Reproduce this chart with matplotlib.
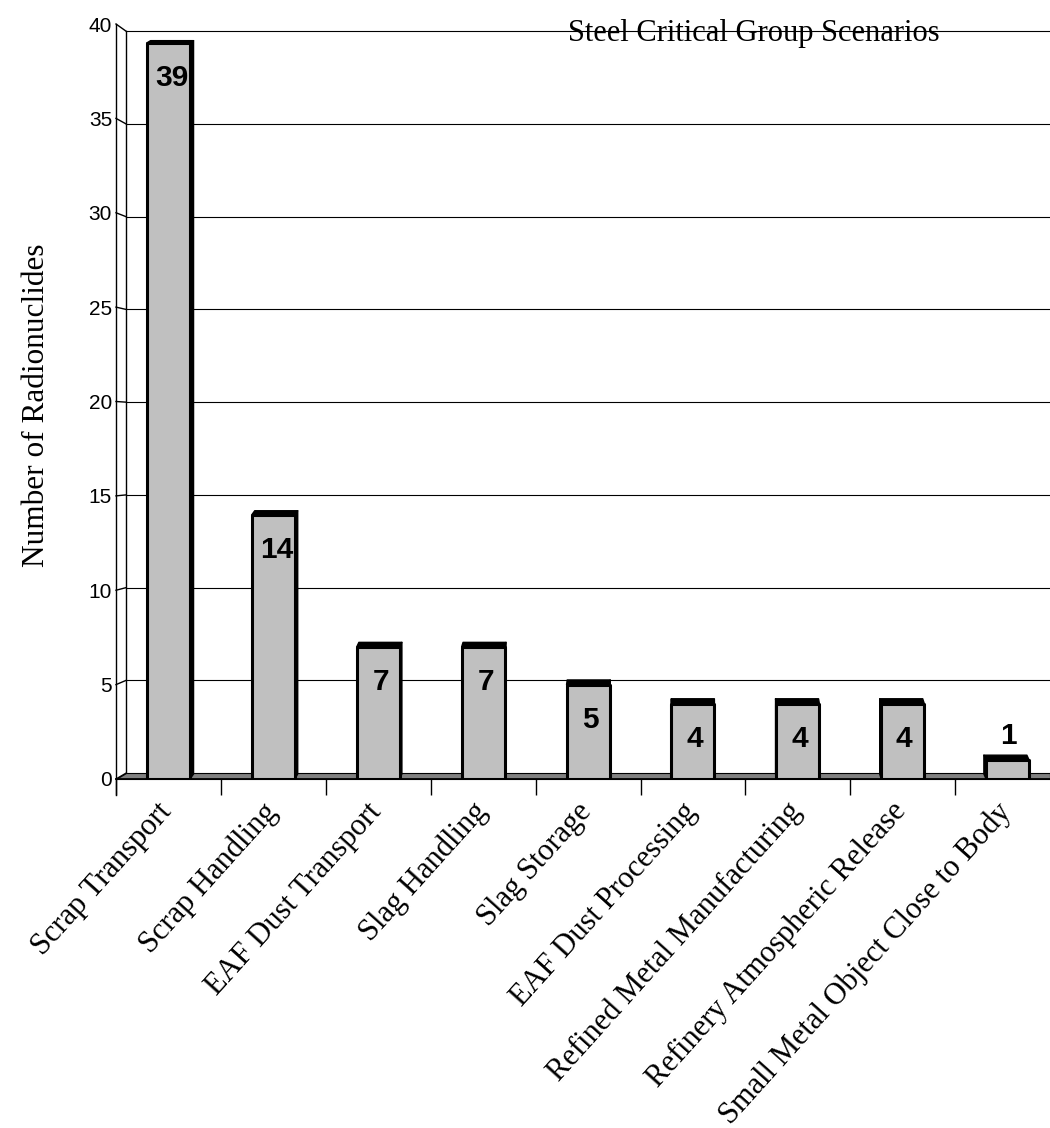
import matplotlib.pyplot as plt
import matplotlib.transforms as mtransforms
from matplotlib.patches import Polygon, Rectangle

# scenario counts
scenarios = ['Scrap Transport', 'Scrap Handling', 'EAF Dust Transport', 'Slag Handling',
             'Slag Storage', 'EAF Dust Processing', 'Refined Metal Manufacturing',
             'Refinery Atmospheric Release', 'Small Metal Object Close to Body']
counts = [39, 14, 7, 7, 5, 4, 4, 4, 1]
yticks = [0, 5, 10, 15, 20, 25, 30, 35, 40]

title = 'Steel Critical Group Scenarios'
ylabel = 'Number of Radionuclides'

serif = 'Liberation Serif'
sans = 'Liberation Sans'

W, H = 1050, 1128
fig = plt.figure(figsize=(W / 100, H / 100), dpi=100)
fig.patch.set_facecolor('white')

# front plane of the 3D box: one category = 104.9 px, one unit = 18.85 px
cat_px, unit_px = 104.9, 18.85
ax = fig.add_axes([116 / W, (H - 779) / H, (W - 116) / W, (779 - 24) / H])
xmax = (W - 116) / cat_px
ax.set_xlim(0, xmax)
ax.set_ylim(0, 40)
ax.axis('off')

# back wall sits slightly behind the front plane (perspective shrink)
s_wall, vx_wall, vy_wall = 0.9828, 5.54, 18.0


def wall(x, y):
    return vx_wall + s_wall * (x - vx_wall), vy_wall + s_wall * (y - vy_wall)


# gridlines on the back wall
for v in yticks[1:]:
    bx, by = wall(0, v)
    ax.plot([bx, xmax], [by, by], color='black', lw=0.8, zorder=1)

# left wall edges and tick connectors
bx0, by0 = wall(0, 0)
bx1, by1 = wall(0, 40)
ax.plot([bx0, bx1], [by0, by1], color='black', lw=1.0, zorder=1, clip_on=False)
ax.plot([0, 0], [-16 / unit_px, 40], color='black', lw=1.0, zorder=1, clip_on=False)
for v in yticks:
    bx, by = wall(0, v)
    ax.plot([0, bx], [v, by], color='black', lw=1.0, zorder=1, clip_on=False)

# floor
floor = Polygon([(0, 0), (xmax, 0), (xmax, by0), (bx0, by0)], closed=True,
                facecolor='#808080', edgecolor='black', lw=0.8, zorder=2, clip_on=False)
ax.add_patch(floor)
ax.plot([0, xmax], [0, 0], color='black', lw=1.3, zorder=2, clip_on=False)

# category ticks below the floor
ax.vlines(range(0, len(scenarios)), -16 / unit_px, 0, color='black', lw=1.0, clip_on=False)

# y tick labels on the front axis
lab_tr = mtransforms.offset_copy(ax.transData, fig=fig, x=-4, y=-2, units='dots')
for v in yticks:
    ax.text(0, v, str(v), transform=lab_tr, ha='right', va='center',
            fontsize=15, family=sans)

# bars with oblique top and side faces
kx, vx_bar = 0.007, 5.4
ky, vy_bar = 0.0038, 70
half = 0.205
for i, h in enumerate(counts):
    xc = i + 0.5
    x0, x1 = xc - half, xc + half
    dx = kx * (vx_bar - xc)
    dt = ky * (vy_bar - h)
    db = ky * vy_bar
    top = [(x0, h), (x1, h), (x1 + dx, h + dt), (x0 + dx, h + dt)]
    sx = x1 if dx > 0 else x0
    side = [(sx, 0), (sx, h), (sx + dx, h + dt), (sx + dx, min(db, h + dt))]
    for pts in (top, side):
        ax.add_patch(Polygon(pts, closed=True, facecolor='black', edgecolor='black',
                             lw=1.0, joinstyle='round', zorder=3))
    ax.add_patch(Rectangle((x0, 0), x1 - x0, h, facecolor='#c0c0c0', edgecolor='black',
                           lw=2.2, joinstyle='round', zorder=4))
    # value label: inside near the top, or above a short bar
    ly = h - 35 / unit_px if h * unit_px > 50 else h + 24 / unit_px
    ax.text(xc + dx / 2 + 0.02, ly, str(h), ha='center', va='center', fontsize=21.5,
            fontweight='bold', family=sans, zorder=5)

# rotated category labels
cat_tr = mtransforms.offset_copy(ax.transData, fig=fig, x=-1, y=-28, units='dots')
for i, name in enumerate(scenarios):
    ax.text(i + 0.5, 0, name, transform=cat_tr, rotation=48, rotation_mode='anchor',
            ha='right', va='center', fontsize=22, family=serif)

fig.text(754 / W, 1 - 33 / H, title, ha='center', va='center', fontsize=22, family=serif)
fig.text(37 / W, 1 - 405 / H, ylabel, rotation=90, ha='center', va='center',
         fontsize=22.5, family=serif)

fig.savefig('out.png', dpi=100, facecolor='white')
